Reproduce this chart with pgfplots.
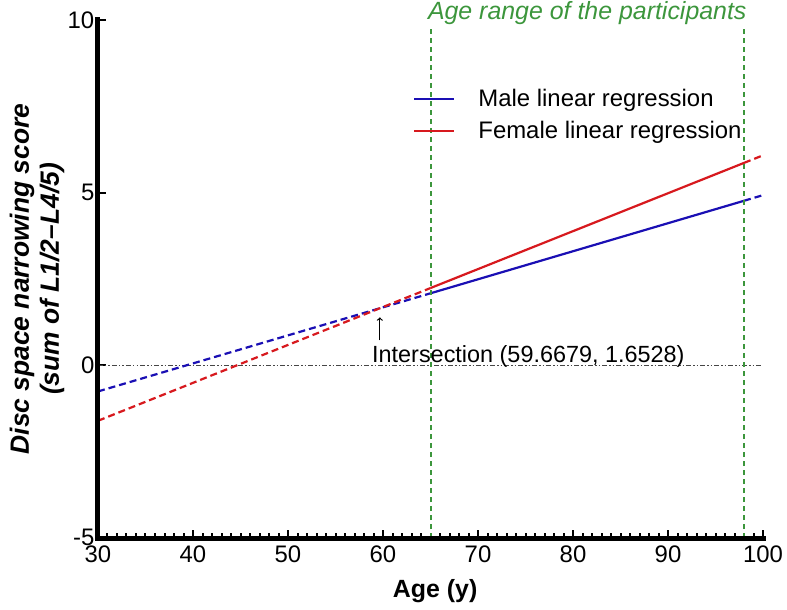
\documentclass[border=0pt]{standalone}
\usepackage{fontspec}
\setmainfont{Liberation Sans}
\usepackage{pgfplots}
\pgfplotsset{compat=1.18}
\definecolor{mblue}{RGB}{26,15,180}
\definecolor{fred}{RGB}{215,25,30}
\definecolor{agreen}{RGB}{60,150,60}
\definecolor{zgray}{RGB}{70,70,70}
\begin{document}
\begin{tikzpicture}
\begin{axis}[
  scale only axis, width=665bp, height=518bp,
  xmin=30, xmax=100, ymin=-5, ymax=10,
  axis x line*=bottom, axis y line*=left,
  axis line style={-, line width=4bp, black},
  xtick={30,40,...,100}, ytick={-5,0,5,10},
  yticklabels={\raisebox{2bp}{-5},0,5,10},
  minor x tick num=9,
  tick align=inside,
  major tick length=8bp, minor tick length=5.5bp,
  tick style={black, line width=2bp},
  major tick style={black, line width=2bp},
  minor tick style={black, line width=2bp},
  tick label style={font=\fontsize{24}{24}\selectfont},
  /pgf/number format/assume math mode=true,
  yticklabel style={inner xsep=3.5bp},
  xticklabel style={inner ysep=8bp},
  xlabel={Age (y)},
  xlabel style={font=\fontsize{25}{25}\selectfont\bfseries, at={(axis description cs:0.507,-0.114)}, anchor=base},
  ylabel={Disc space narrowing score\\(sum of L1/2–L4/5)},
  ylabel style={font=\fontsize{26.5}{30}\selectfont\bfseries\itshape, align=center, at={(axis description cs:-0.0917,0.5)}, anchor=center},
  legend style={at={(rel axis cs:0.4737,0.866)}, anchor=north west, draw=none, fill=none, inner sep=0pt, row sep=13bp, font=\fontsize{24}{24}\selectfont, nodes={inner sep=0pt}, /tikz/every odd column/.append style={column sep=23bp}},
  legend cell align=left,
  legend image code/.code={\draw[#1] (0bp,0bp) -- (40bp,0bp);},
  clip=false,
]
\addplot[zgray, line width=1.4bp, dash pattern=on 5bp off 2bp on 1.5bp off 2bp on 1.5bp off 2bp, forget plot] coordinates {(30,0) (100,0)};
% male
\addplot[mblue, line width=2.2bp, dash pattern=on 7bp off 4bp, forget plot] coordinates {(30,-0.756) (65,2.086)};
\addplot[mblue, line width=2.2bp] coordinates {(65,2.086) (98,4.765)};
\addlegendentry{Male linear regression}
\addplot[mblue, line width=2.2bp, dash pattern=on 7bp off 4bp, forget plot] coordinates {(98,4.765) (100,4.928)};
% female
\addplot[fred, line width=2.2bp, dash pattern=on 7bp off 4bp, forget plot] coordinates {(30,-1.605) (65,2.238)};
\addplot[fred, line width=2.2bp] coordinates {(65,2.238) (98,5.862)};
\addlegendentry{Female linear regression}
\addplot[fred, line width=2.2bp, dash pattern=on 7bp off 4bp, forget plot] coordinates {(98,5.862) (100,6.081)};
% age range
\addplot[agreen, line width=2bp, dash pattern=on 5bp off 4bp, forget plot] coordinates {(65,-5) (65,9.8)};
\addplot[agreen, line width=2bp, dash pattern=on 5bp off 4bp, forget plot] coordinates {(98,-5) (98,9.8)};
\node[anchor=base, font=\fontsize{25}{25}\selectfont\itshape, text=agreen] at (axis cs:81.5,10) {Age range of the participants};
\draw[->, line width=1.2bp] (axis cs:59.6679,0.72) -- (axis cs:59.6679,1.39);
\node[anchor=base west, inner sep=0pt, font=\fontsize{23.5}{24}\selectfont] at (axis cs:58.84,0.09) {Intersection (59.6679, 1.6528)};
\draw[black, line width=5bp, line cap=rect] (rel axis cs:0,1) -- (rel axis cs:0,0) -- (rel axis cs:1,0);
\coordinate (LL) at (rel axis cs:0,0);
\coordinate (UR) at (rel axis cs:1,1);
\end{axis}
\pgfresetboundingbox
\path ([shift={(-98bp,-71bp)}]LL) rectangle ([shift={(24bp,20bp)}]UR);
\end{tikzpicture}
\end{document}
